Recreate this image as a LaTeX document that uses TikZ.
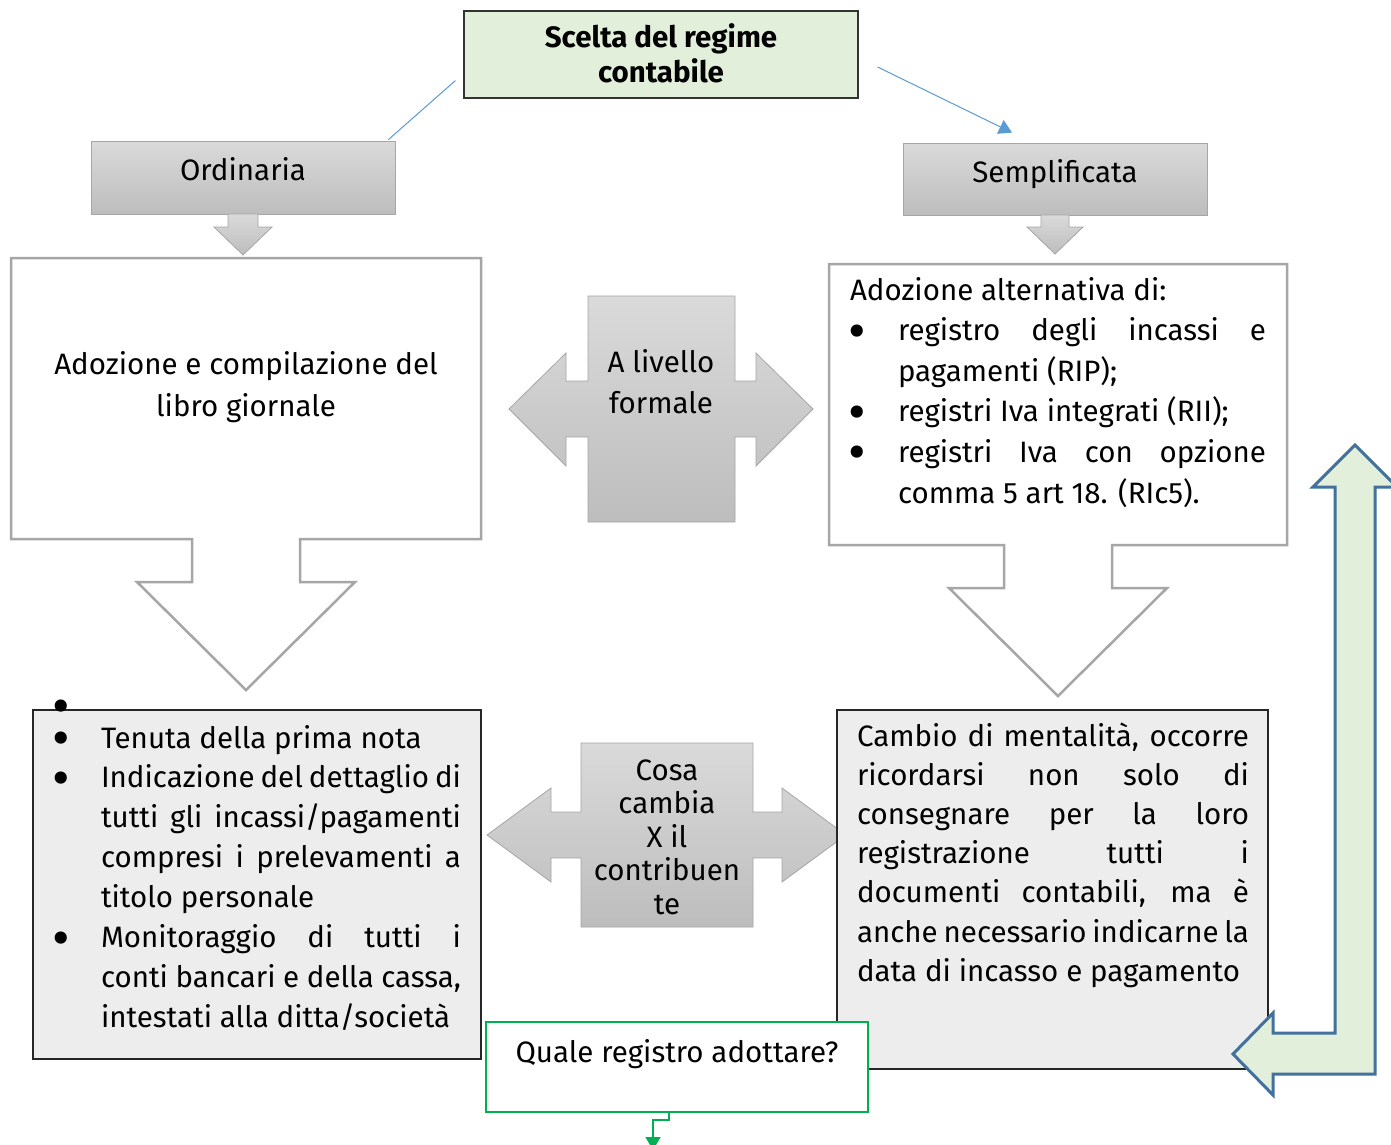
\documentclass[tikz,border=0pt]{standalone}
\usepackage{fontspec}
\setmainfont{Fira Sans}
\usetikzlibrary{arrows.meta,calc}
\definecolor{lgreen}{HTML}{E2EFDA}
\definecolor{lblue}{HTML}{5B9BD5}
\definecolor{dblue}{HTML}{41719C}
\definecolor{gborder}{HTML}{A6A6A6}
\definecolor{gtop}{HTML}{DADADA}
\definecolor{gbot}{HTML}{BDBDBD}
\definecolor{lgray}{HTML}{EDEDED}
\definecolor{qgreen}{HTML}{00B050}
\newcommand{\jl}[2]{\makebox[#1][s]{#2}}
\newcommand{\fsz}[1]{\fontsize{29.5}{#1}\selectfont}
\newcommand{\bigbul}{\smash{\raisebox{-8.5pt}{\fontsize{54}{54}\selectfont\textbullet}}}
\newcommand{\bulL}{\makebox[51pt][l]{\makebox[22pt]{\bigbul}}}
\newcommand{\indL}{\makebox[51pt]{}}
\newcommand{\bulR}{\makebox[48pt][l]{\makebox[14pt]{\bigbul}}}
\newcommand{\indR}{\makebox[48pt]{}}
\begin{document}
\begin{tikzpicture}[x=1pt,y=-1pt,
  txt/.style={inner sep=0pt,outer sep=0pt},
  gshade/.style={top color=gtop,bottom color=gbot,draw=gborder,line width=0.8pt},
  callout/.style={draw=gborder,line width=2.5pt,fill=white,line join=miter},
  graybox/.style={draw=black!85,line width=1.3pt,fill=lgray,inner sep=0pt},
  conn/.style={lblue,line width=1pt},
  tip/.style={-{Triangle[length=13pt,width=15pt]}}]
\useasboundingbox (0,0) rectangle (1391,1144);
\clip (0,0) rectangle (1391,1144);
\fill[white] (0,0) rectangle (1391,1144);

% top box
\node[draw=black!80,line width=1.2pt,fill=lgreen,minimum width=394pt,minimum height=87pt,inner sep=0pt] (t) at (661,54.5) {};
\node[txt,anchor=north,align=center,font={\fsz{34}\bfseries}] (tt) at (661,23.2) {\strut Scelta del regime\\\strut contabile};

% Ordinaria / Semplificata
\node[gshade,minimum width=304pt,minimum height=73pt,inner sep=0pt] (o) at (243,177.5) {};
\node[txt,anchor=base,font=\fsz{36}] (ot) at (243,180) {Ordinaria};
\path[gshade] (228,214) -- (258,214) -- (258,227) -- (272,227) -- (243,255) -- (214,227) -- (228,227) -- cycle;
\node[gshade,minimum width=304pt,minimum height=72pt,inner sep=0pt] (s) at (1055,179) {};
\node[txt,anchor=base,font=\fsz{36}] (st) at (1055,182) {Semplificata};
\path[gshade] (1041,215) -- (1069,215) -- (1069,227) -- (1083,227) -- (1055,254) -- (1027,227) -- (1041,227) -- cycle;

% connectors from top
\draw[conn] ($(t.south west)+(-8,-18)$) -- ($(o.north east)+(-7,-1)$);
\draw[conn,tip] ($(t.east)+(19,12.5)$) -- ($(s.north)+(-43,-10)$);

% callouts
\path[callout] (11,258) -- (481,258) -- (481,539) -- (300,539) -- (300,582) -- (355,582) -- (246,690) -- (137,582) -- (192,582) -- (192,539) -- (11,539) -- cycle;
\node[txt,anchor=north,align=center,font=\fsz{42}] (lt) at (246,344.6) {\strut Adozione e compilazione del\\\strut libro giornale};
\path[callout] (829,264) -- (1287,264) -- (1287,545) -- (1112,545) -- (1112,588) -- (1167,588) -- (1058,696) -- (949,588) -- (1004,588) -- (1004,545) -- (829,545) -- cycle;
\node[txt,anchor=north west,align=left,font=\fsz{40.6}] (rt) at (850,271.6) {%
\strut Adozione alternativa di:\\
\bulR\strut\jl{368pt}{registro degli incassi e}\\
\indR\strut pagamenti (RIP);\\
\bulR\strut registri Iva integrati (RII);\\
\bulR\strut\jl{368pt}{registri Iva con opzione}\\
\indR\strut comma 5 art 18. (RIc5).};

% middle double arrows
\path[gshade] (588,296) -- (735,296) -- (735,381) -- (756,381) -- (756,353) -- (813,409) -- (756,466) -- (756,437) -- (735,437) -- (735,522) -- (588,522) -- (588,437) -- (566,437) -- (566,466) -- (509,409) -- (566,353) -- (566,381) -- (588,381) -- cycle;
\node[txt,anchor=north,align=center,font=\fsz{41}] (at) at (661,343.3) {\strut A livello\\\strut formale};
\path[gshade] (581,743) -- (753,743) -- (753,812) -- (782,812) -- (782,788) -- (846,835) -- (782,882) -- (782,858) -- (753,858) -- (753,927) -- (581,927) -- (581,858) -- (551,858) -- (551,882) -- (487,835) -- (551,788) -- (551,812) -- (581,812) -- cycle;
\node[txt,anchor=north,align=center,font=\fsz{33.5}] (ct) at (667,756.55) {\strut Cosa\\\strut cambia\\\strut X il\\\strut contribuen\\\strut te};

% lower boxes
\node[graybox,minimum width=448pt,minimum height=349pt] (l) at (257,884.5) {};
\node[txt,anchor=north west,align=left,font=\fsz{39.9}] (llt) at (50,720.1) {%
\bulL\strut Tenuta della prima nota\\
\bulL\strut\jl{360pt}{Indicazione del dettaglio di}\\
\indL\strut\jl{360pt}{tutti gli incassi/pagamenti}\\
\indL\strut\jl{360pt}{compresi i prelevamenti a}\\
\indL\strut titolo personale\\
\bulL\strut\jl{360pt}{Monitoraggio di tutti i}\\
\indL\strut\jl{360pt}{conti bancari e della cassa,}\\
\indL\strut intestati alla ditta/società};
\node[txt,anchor=base,font=\fsz{36}] (sb) at (61,716) {\bigbul};

\node[graybox,minimum width=431pt,minimum height=359pt] (r) at (1052.5,889.5) {};
\node[txt,anchor=north west,align=left,font=\fsz{39.2}] (rlt) at (857,718.6) {%
\strut\jl{392pt}{Cambio di mentalità, occorre}\\
\strut\jl{392pt}{ricordarsi non solo di}\\
\strut\jl{392pt}{consegnare per la loro}\\
\strut\jl{392pt}{registrazione tutti i}\\
\strut\jl{392pt}{documenti contabili, ma è}\\
\strut\jl{392pt}{anche necessario indicarne la}\\
\strut data di incasso e pagamento};

% question box
\node[draw=qgreen,line width=1.5pt,fill=white,minimum width=382pt,minimum height=90pt,inner sep=0pt] (q) at (677,1067) {};
\node[txt,anchor=base,font=\fsz{36}] (qt) at (677,1062) {Quale registro adottare?};
\coordinate (qend) at (653,1150);
\draw[qgreen,line width=1.5pt,tip] ($(q.south)+(-8,0)$) -- ++(0,7) -| (qend);

% bent arrow
\path[fill=lgreen,draw=dblue,line width=3pt,line join=miter] (1355,445) -- (1397,487) -- (1375,487) -- (1375,1074) -- (1273,1074) -- (1273,1095) -- (1233,1054) -- (1273,1013) -- (1273,1033) -- (1335,1033) -- (1335,487) -- (1313,487) -- cycle;
\end{tikzpicture}
\end{document}
